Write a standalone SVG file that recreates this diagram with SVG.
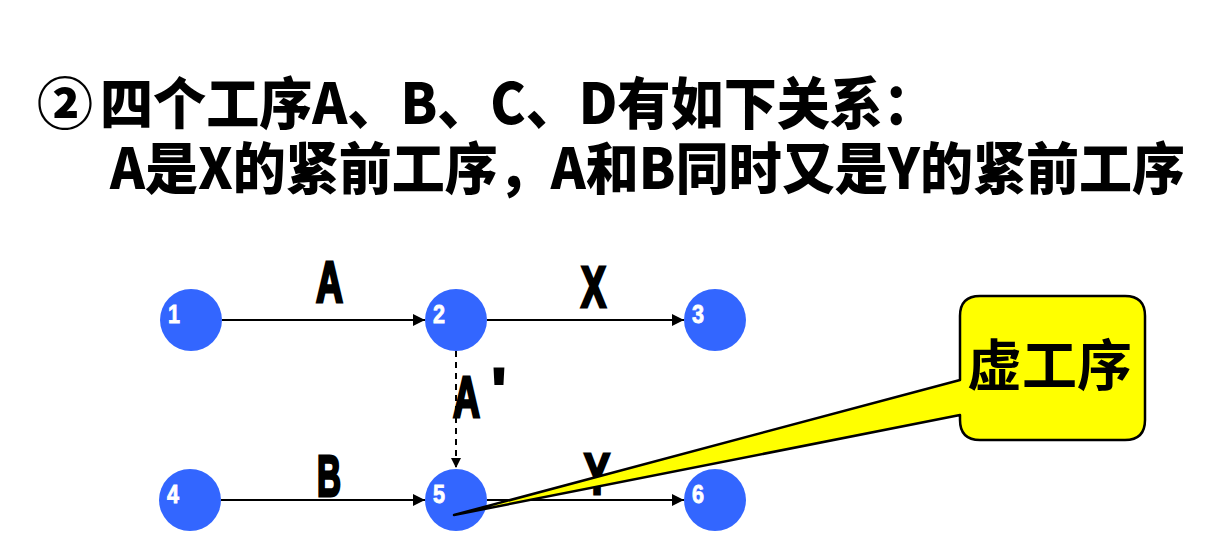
<svg xmlns="http://www.w3.org/2000/svg" width="1219" height="543" viewBox="0 0 1219 543">
<defs>
<style>
.title{font-family:"Noto Sans CJK SC","Noto Sans",sans-serif;font-weight:900;font-size:56px;fill:#000}
.node circle{fill:#3366FF}
.num{font-family:"Liberation Sans",Arial,sans-serif;font-weight:bold;font-size:25px;fill:#fff;stroke:#fff;stroke-width:0.8}
.lbl{font-family:"Liberation Sans",Arial,sans-serif;font-weight:bold;font-size:58px;fill:#000;stroke:#000;stroke-width:3;stroke-linejoin:miter}
.edge{stroke:#000;stroke-width:2;fill:none}
.callout{fill:#FFFF00;stroke:#000;stroke-width:2.5;stroke-linejoin:round}
.ctext{font-family:"Noto Sans CJK SC",sans-serif;font-weight:bold;font-size:55px;fill:#000}
</style>
<marker id="arr" viewBox="0 0 10 10" refX="10" refY="5" markerWidth="10" markerHeight="10" markerUnits="userSpaceOnUse" orient="auto">
<path d="M0,0 L10,5 L0,10 Z" fill="#000"/>
</marker>
<marker id="arr2" viewBox="0 0 10 10" refX="10" refY="5" markerWidth="12" markerHeight="12" markerUnits="userSpaceOnUse" orient="auto">
<path d="M0,0 L10,5 L0,10 Z" fill="#000"/>
</marker>
</defs>
<rect width="1219" height="543" fill="#fff"/>
<g id="title">
<text class="title" x="37" y="124">②</text>
<text class="title" x="100" y="124" textLength="836" lengthAdjust="spacingAndGlyphs">四个工序A、B、C、D有如下关系：</text>
<text class="title" x="110" y="189" textLength="1075" lengthAdjust="spacingAndGlyphs">A是X的紧前工序，A和B同时又是Y的紧前工序</text>
</g>
<g id="connectors">
<line class="edge" x1="222" y1="320" x2="425" y2="320" marker-end="url(#arr2)"/>
<line class="edge" x1="487" y1="320" x2="684" y2="320" marker-end="url(#arr2)"/>
<line class="edge" x1="221" y1="500" x2="425" y2="500" marker-end="url(#arr2)"/>
<line class="edge" x1="487" y1="500" x2="684" y2="500" marker-end="url(#arr2)"/>
<line class="edge" x1="456" y1="351" x2="456" y2="468" stroke-dasharray="6,5" marker-end="url(#arr)"/>
<text class="lbl" x="316" y="302" textLength="27" lengthAdjust="spacingAndGlyphs">A</text>
<text class="lbl" x="581" y="307" textLength="25" lengthAdjust="spacingAndGlyphs">X</text>
<text class="lbl" x="453" y="417" textLength="27" lengthAdjust="spacingAndGlyphs">A</text>
<text class="lbl" x="492" y="409">'</text>
<text class="lbl" x="317" y="496" textLength="24" lengthAdjust="spacingAndGlyphs">B</text>
<text class="lbl" x="584" y="494" textLength="26" lengthAdjust="spacingAndGlyphs">Y</text>
</g>
<g id="node1" class="node"><circle cx="191" cy="320" r="31"/><text class="num" x="168" y="323" textLength="12" lengthAdjust="spacingAndGlyphs">1</text></g>
<g id="node2" class="node"><circle cx="456" cy="320" r="31"/><text class="num" x="433" y="323" textLength="12" lengthAdjust="spacingAndGlyphs">2</text></g>
<g id="node3" class="node"><circle cx="715" cy="320" r="31"/><text class="num" x="692" y="323" textLength="12" lengthAdjust="spacingAndGlyphs">3</text></g>
<g id="node4" class="node"><circle cx="190" cy="500" r="31"/><text class="num" x="167" y="503" textLength="12" lengthAdjust="spacingAndGlyphs">4</text></g>
<g id="node5" class="node"><circle cx="456" cy="500" r="31"/><text class="num" x="433" y="503" textLength="12" lengthAdjust="spacingAndGlyphs">5</text></g>
<g id="node6" class="node"><circle cx="715" cy="500" r="31"/><text class="num" x="692" y="503" textLength="12" lengthAdjust="spacingAndGlyphs">6</text></g>
<g id="callout">
<path class="callout" d="M980,296 H1125 Q1145,296 1145,316 V420 Q1145,440 1125,440 H980 Q960,440 960,420 V415 L454,515 L960,380 V316 Q960,296 980,296 Z"/>
<text class="ctext" x="967" y="385">虚工序</text>
</g>
</svg>
